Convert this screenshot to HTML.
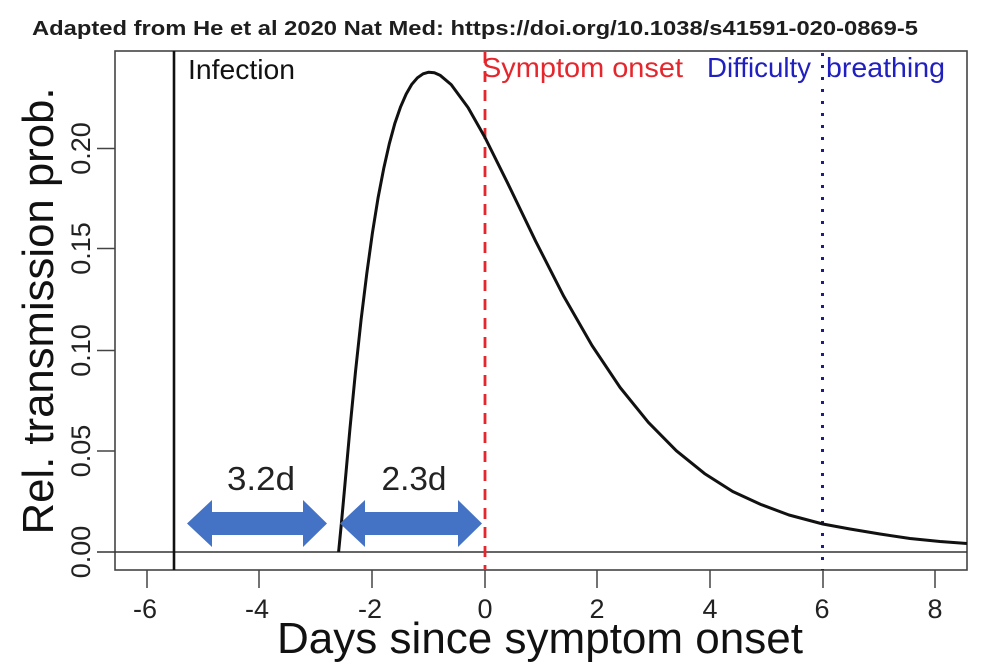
<!DOCTYPE html>
<html>
<head>
<meta charset="utf-8">
<style>
  html,body{margin:0;padding:0;background:#fff;}
  svg{display:block;}
  text{font-family:"Liberation Sans", Arial, sans-serif;}
</style>
</head>
<body>
<svg width="1000" height="672" viewBox="0 0 1000 672" xmlns="http://www.w3.org/2000/svg">
  <rect x="0" y="0" width="1000" height="672" fill="#fff"/>

  <!-- Title -->
  <text x="475" y="35" font-size="20" font-weight="bold" fill="#1e1e1e" text-anchor="middle" textLength="886" lengthAdjust="spacingAndGlyphs">Adapted from He et al 2020 Nat Med: https://doi.org/10.1038/s41591-020-0869-5</text>

  <!-- Plot frame -->
  <rect x="115" y="51" width="852" height="519" fill="none" stroke="#444" stroke-width="1.6"/>

  <!-- h=0 line -->
  <line x1="97" y1="552" x2="967" y2="552" stroke="#333" stroke-width="1.5"/>

  <!-- Y ticks -->
  <g stroke="#444" stroke-width="1.5">
    <line x1="97" y1="451" x2="115" y2="451"/>
    <line x1="97" y1="350.5" x2="115" y2="350.5"/>
    <line x1="97" y1="248.5" x2="115" y2="248.5"/>
    <line x1="97" y1="148.5" x2="115" y2="148.5"/>
  </g>
  <g font-size="27" fill="#222" text-anchor="middle">
    <text transform="translate(90,552) rotate(-90)">0.00</text>
    <text transform="translate(90,451) rotate(-90)">0.05</text>
    <text transform="translate(90,350.5) rotate(-90)">0.10</text>
    <text transform="translate(90,248.5) rotate(-90)">0.15</text>
    <text transform="translate(90,148.5) rotate(-90)">0.20</text>
  </g>

  <!-- X ticks -->
  <g stroke="#444" stroke-width="1.5">
    <line x1="147" y1="570" x2="147" y2="588"/>
    <line x1="259" y1="570" x2="259" y2="588"/>
    <line x1="372" y1="570" x2="372" y2="588"/>
    <line x1="485" y1="570" x2="485" y2="588"/>
    <line x1="597" y1="570" x2="597" y2="588"/>
    <line x1="710" y1="570" x2="710" y2="588"/>
    <line x1="823" y1="570" x2="823" y2="588"/>
    <line x1="935" y1="570" x2="935" y2="588"/>
  </g>
  <g font-size="27" fill="#222" text-anchor="middle">
    <text x="145" y="618">-6</text>
    <text x="257" y="618">-4</text>
    <text x="370" y="618">-2</text>
    <text x="485" y="618">0</text>
    <text x="597" y="618">2</text>
    <text x="710" y="618">4</text>
    <text x="822" y="618">6</text>
    <text x="935" y="618">8</text>
  </g>

  <!-- Axis titles -->
  <text x="540" y="653" font-size="44" fill="#111" text-anchor="middle" textLength="526" lengthAdjust="spacingAndGlyphs">Days since symptom onset</text>
  <text transform="translate(53,311) rotate(-90)" font-size="44" fill="#111" text-anchor="middle" textLength="447" lengthAdjust="spacingAndGlyphs">Rel. transmission prob.</text>

  <!-- Infection line -->
  <line x1="174" y1="51" x2="174" y2="570" stroke="#111" stroke-width="2.6"/>

  <!-- Symptom onset dashed -->
  <line x1="485" y1="52" x2="485" y2="570" stroke="#e5262c" stroke-width="2.8" stroke-dasharray="11 8"/>

  <!-- Difficulty breathing dotted -->
  <line x1="822.5" y1="53" x2="822.5" y2="570" stroke="#1c1c8c" stroke-width="3" stroke-dasharray="3 9"/>

  <!-- Curve -->
  <polyline fill="none" stroke="#111" stroke-width="3" stroke-linejoin="round" points="
    338.6,552 341.4,523.2 344.3,491.5 349.9,429.2 355.5,371.6 361.1,319.6 366.8,273.4 372.4,233.1
    378.0,198.2 383.7,168.6 389.3,143.8 394.9,123.2 400.6,106.8 406.2,94.0 411.8,84.3 417.4,77.8
    423.1,73.8 428.7,72.2 434.4,72.8 440.0,75.2 451.2,84.6 468.1,107.6 485,137.5 507.5,182.8
    535.7,241.3 563.8,296.4 592.0,345.5 620.1,387.5 648.3,422.3 676.4,450.8 704.6,473.6
    732.7,491.5 760.9,504.5 789,515 822.8,524 850,529 880,534 910,538.5 940,541.5 967,543.5"/>

  <!-- Labels inside plot -->
  <text x="188" y="79" font-size="28" fill="#111" textLength="107" lengthAdjust="spacingAndGlyphs">Infection</text>
  <text x="482" y="77" font-size="28" fill="#e5262c" textLength="201" lengthAdjust="spacingAndGlyphs">Symptom onset</text>
  <text x="707" y="77" font-size="28" fill="#2020c0" textLength="104" lengthAdjust="spacingAndGlyphs">Difficulty</text>
  <text x="826" y="77" font-size="28" fill="#2020c0" textLength="119" lengthAdjust="spacingAndGlyphs">breathing</text>

  <!-- Arrows -->
  <polygon fill="#4472c4" points="187,523.5 212,500 212,512 303,512 303,500 327,523.5 303,547 303,535 212,535 212,547"/>
  <polygon fill="#4472c4" points="340,523.5 365,500 365,512 458,512 458,500 482,523.5 458,547 458,535 365,535 365,547"/>

  <text x="261" y="490" font-size="33" fill="#222" text-anchor="middle" textLength="68" lengthAdjust="spacingAndGlyphs">3.2d</text>
  <text x="414" y="490" font-size="33" fill="#222" text-anchor="middle" textLength="65" lengthAdjust="spacingAndGlyphs">2.3d</text>
</svg>
</body>
</html>
